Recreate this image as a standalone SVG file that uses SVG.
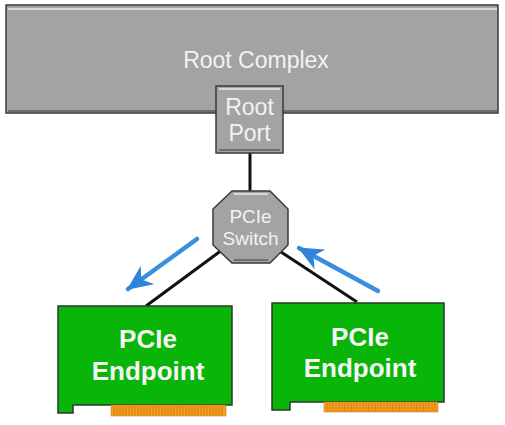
<svg xmlns="http://www.w3.org/2000/svg" width="505" height="425" viewBox="0 0 505 425">
<defs>
<style>
.gray{fill:#a3a3a3;stroke:#3a3a3a;stroke-width:1.5}
.hl{fill:none;stroke:#d8d8d8;stroke-width:2}
.sh{fill:none;stroke:#6e6e6e;stroke-width:2}
.gt{font-family:"Liberation Sans",Arial,sans-serif;fill:#f2f2f2;text-anchor:middle}
.card{fill:#08b508;stroke:#2a3a2a;stroke-width:1.5}
.et{font-family:"Liberation Sans",Arial,sans-serif;font-weight:bold;font-size:26px;fill:#f4f4f4;text-anchor:middle}
.gold{fill:#f5a020;stroke:#c07010;stroke-width:0.5}
.teeth{stroke:#d07a10;stroke-width:1}
.wire{stroke:#111;stroke-width:3;fill:none}
.blue{stroke:#3a8ee0;stroke-width:4.5;stroke-linecap:round;fill:none}
</style>
<marker id="ah" viewBox="0 0 20 18" refX="19" refY="9" markerWidth="5.6" markerHeight="5.04" orient="auto" markerUnits="strokeWidth">
<path d="M0,0 L20,9 L0,18 L6,9 Z" fill="#2f84da"/>
</marker>
</defs>
<rect width="505" height="425" fill="#fff"/>
<g id="root-complex">
<rect class="gray" x="6" y="5" width="492" height="108"/>
<path class="hl" d="M8,9 H497"/>
<path class="sh" d="M8,111 H497"/>
<text class="gt" x="256" y="68" font-size="23">Root Complex</text>
</g>
<g id="connectors">
<line class="wire" x1="250" y1="153" x2="250" y2="192"/>
<line class="wire" x1="222" y1="250" x2="146" y2="306"/>
<line class="wire" x1="278" y1="250" x2="357" y2="302"/>
<line class="blue" x1="197" y1="239" x2="128" y2="289" marker-end="url(#ah)"/>
<line class="blue" x1="378" y1="291" x2="299" y2="248" marker-end="url(#ah)"/>
</g>
<g id="root-port">
<rect class="gray" x="216" y="86" width="67" height="67"/>
<path class="hl" d="M219,89 H280"/>
<path class="sh" d="M219,150 H280"/>
<text class="gt" x="249.5" y="115" font-size="23">Root</text>
<text class="gt" x="249.5" y="141" font-size="23">Port</text>
</g>
<g id="pcie-switch">
<polygon class="gray" points="232,191 270,191 288,209 288,245 270,263 232,263 213,245 213,209"/>
<path class="hl" d="M234,194 H268"/>
<path class="sh" d="M234,260 H268"/>
<text class="gt" x="250.5" y="223" font-size="19">PCIe</text>
<text class="gt" x="250.5" y="245" font-size="19">Switch</text>
</g>
<g id="endpoint-left">
<path class="card" d="M58,306 H232 V405 H73 V413 H58 Z"/>
<rect class="gold" x="111" y="405" width="115" height="11"/>
<path class="teeth" d="M114,406V415M117,406V415M120,406V415M123,406V415M126,406V415M129,406V415M132,406V415M135,406V415M138,406V415M141,406V415M144,406V415M147,406V415M150,406V415M153,406V415M156,406V415M159,406V415M162,406V415M165,406V415M168,406V415M171,406V415M174,406V415M177,406V415M180,406V415M183,406V415M186,406V415M189,406V415M192,406V415M195,406V415M198,406V415M201,406V415M204,406V415M207,406V415M210,406V415M213,406V415M216,406V415M219,406V415M222,406V415"/>
<text class="et" x="148" y="348">PCIe</text>
<text class="et" x="148" y="380">Endpoint</text>
</g>
<g id="endpoint-right">
<path class="card" d="M272,303 H444 V402 H290 V410 H272 Z"/>
<rect class="gold" x="324" y="402" width="114" height="10"/>
<path class="teeth" d="M327,403V411M330,403V411M333,403V411M336,403V411M339,403V411M342,403V411M345,403V411M348,403V411M351,403V411M354,403V411M357,403V411M360,403V411M363,403V411M366,403V411M369,403V411M372,403V411M375,403V411M378,403V411M381,403V411M384,403V411M387,403V411M390,403V411M393,403V411M396,403V411M399,403V411M402,403V411M405,403V411M408,403V411M411,403V411M414,403V411M417,403V411M420,403V411M423,403V411M426,403V411M429,403V411M432,403V411M435,403V411"/>
<text class="et" x="360" y="346">PCIe</text>
<text class="et" x="360" y="377">Endpoint</text>
</g>
</svg>
